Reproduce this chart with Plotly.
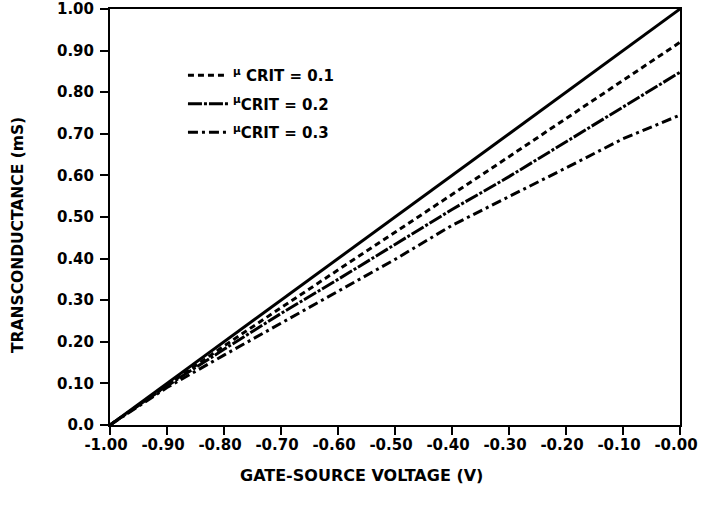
import plotly.graph_objects as go

x_vals = [-1.0, -0.9, -0.8, -0.7, -0.6, -0.5, -0.4, -0.3, -0.2, -0.1, 0.0]
ideal = [0.0, 0.10, 0.20, 0.30, 0.40, 0.50, 0.60, 0.70, 0.80, 0.90, 1.00]
mu01 = [0.0, 0.096, 0.190, 0.282, 0.372, 0.463, 0.554, 0.645, 0.737, 0.828, 0.920]
mu02 = [0.0, 0.094, 0.182, 0.268, 0.350, 0.433, 0.518, 0.597, 0.680, 0.765, 0.848]
mu03 = [0.0, 0.090, 0.168, 0.245, 0.322, 0.398, 0.480, 0.548, 0.618, 0.688, 0.745]

x_ticks = [-1.0, -0.9, -0.8, -0.7, -0.6, -0.5, -0.4, -0.3, -0.2, -0.1, 0.0]
x_labels = ["-1.00", "-0.90", "-0.80", "-0.70", "-0.60", "-0.50", "-0.40", "-0.30", "-0.20", "-0.10", "-0.00"]
y_ticks = [0.0, 0.1, 0.2, 0.3, 0.4, 0.5, 0.6, 0.7, 0.8, 0.9, 1.0]
y_labels = ["0.0", "0.10", "0.20", "0.30", "0.40", "0.50", "0.60", "0.70", "0.80", "0.90", "1.00"]
names = ["<sup>μ</sup> CRIT = 0.1", "<sup>μ</sup>CRIT = 0.2", "<sup>μ</sup>CRIT = 0.3"]
x_title = "GATE-SOURCE VOLTAGE (V)"
y_title = "TRANSCONDUCTANCE (mS)"

font = "DejaVu Sans, sans-serif"

fig = go.Figure()
fig.add_trace(go.Scatter(x=x_vals, y=ideal, mode="lines", showlegend=False,
                         line=dict(color="black", width=3)))
fig.add_trace(go.Scatter(x=x_vals, y=mu01, mode="lines", name="<b>%s</b>" % names[0],
                         legendgroup="a",
                         line=dict(color="black", width=3, dash="6px,4px")))
fig.add_trace(go.Scatter(x=x_vals, y=mu02, mode="lines", name="<b>%s</b>" % names[1],
                         legendgroup="b",
                         line=dict(color="black", width=3, dash="14px,2px,3px,2px")))
fig.add_trace(go.Scatter(x=x_vals, y=mu03, mode="lines", name="<b>%s</b>" % names[2],
                         legendgroup="c",
                         line=dict(color="black", width=3, dash="10px,4px,3px,4px")))

plot_h = 416
fig.update_layout(
    width=701, height=510,
    margin=dict(l=110, r=21, t=9, b=85),
    paper_bgcolor="white", plot_bgcolor="white",
    font=dict(family=font, color="black", size=14),
    legend=dict(x=0.128, y=0.88, xanchor="left", yanchor="top",
                bgcolor="rgba(0,0,0,0)", tracegroupgap=6,
                font=dict(family=font, size=15, color="black"),
                itemwidth=40),
    xaxis=dict(range=[-1.0, 0.0], tickvals=x_ticks,
               ticktext=["<b>%s</b>" % t for t in x_labels], automargin=False,
               ticklabeloverflow="allow", ticklabelstandoff=-3, ticklabelshift=-4,
               showgrid=False, zeroline=False, showline=True, linecolor="black",
               linewidth=2, mirror=True, ticks="outside", ticklen=8, tickwidth=2,
               tickcolor="black", tickfont=dict(family=font, size=15, color="black")),
    yaxis=dict(range=[0.0, 1.0], tickvals=y_ticks,
               ticktext=["<b>%s</b>" % t for t in y_labels], automargin=False,
               ticklabeloverflow="allow", ticklabelstandoff=3,
               showgrid=False, zeroline=False, showline=True, linecolor="black",
               linewidth=2, mirror=True, ticks="outside", ticklen=8, tickwidth=2,
               tickcolor="black", tickfont=dict(family=font, size=15, color="black")),
    annotations=[
        dict(text="<b>%s</b>" % x_title, xref="paper", yref="paper",
             x=0.442, y=-50 / plot_h, xanchor="center", yanchor="middle",
             showarrow=False, font=dict(family=font, size=16, color="black")),
        dict(text="<b>%s</b>" % y_title, xref="paper", yref="paper",
             x=-92 / 570, y=(425 - 235) / plot_h, xanchor="center", yanchor="middle",
             textangle=-90, showarrow=False,
             font=dict(family=font, size=15.5, color="black")),
    ],
)

fig.write_html("out.html")
